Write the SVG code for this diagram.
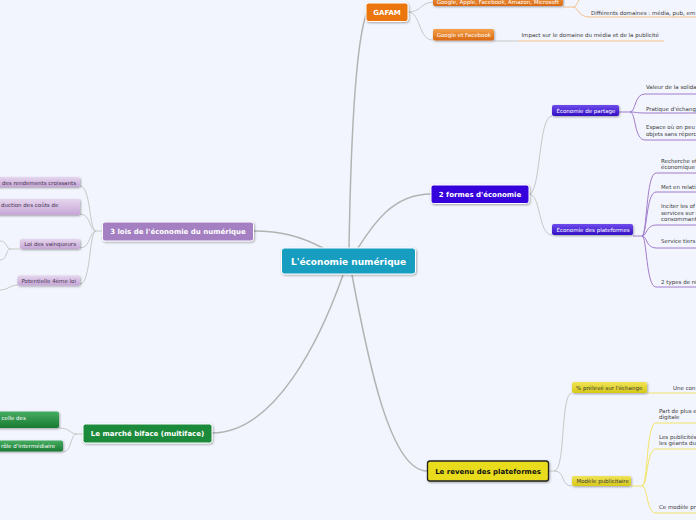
<svg xmlns="http://www.w3.org/2000/svg" width="696" height="520" viewBox="0 0 696 520">
<defs>
<filter id="sh" x="-10%" y="-30%" width="130%" height="180%"><feDropShadow dx="0.8" dy="1" stdDeviation="0.8" flood-color="#000" flood-opacity="0.35"/></filter>
<linearGradient id="gOr" x1="0" y1="0" x2="0" y2="1"><stop offset="0" stop-color="#f4a04a"/><stop offset="1" stop-color="#d96810"/></linearGradient>
<linearGradient id="gBl" x1="0" y1="0" x2="0" y2="1"><stop offset="0" stop-color="#6f4cec"/><stop offset="1" stop-color="#3210c4"/></linearGradient>
<linearGradient id="gPu" x1="0" y1="0" x2="0" y2="1"><stop offset="0" stop-color="#e6d6ee"/><stop offset="1" stop-color="#c6a6d6"/></linearGradient>
<linearGradient id="gGr" x1="0" y1="0" x2="0" y2="1"><stop offset="0" stop-color="#45ad62"/><stop offset="1" stop-color="#1a7a32"/></linearGradient>
<linearGradient id="gYe" x1="0" y1="0" x2="0" y2="1"><stop offset="0" stop-color="#f0e458"/><stop offset="1" stop-color="#d6c816"/></linearGradient>
</defs>
<style>
text{font-family:"DejaVu Sans","Verdana",sans-serif}
.main{stroke:#fff;stroke-width:1}
.mt{font-size:7px;font-weight:bold;fill:#fff;text-anchor:middle}
.st{font-size:5.5px;fill:#fff}
.dt{font-size:5.5px;fill:#3a3a3a}
.pt{font-size:5.5px;fill:#44344f}
.c0{fill:none;stroke:#b3b3b3;stroke-width:1.5}
.c1{fill:none;stroke:#c8c8c8;stroke-width:1}
.co{fill:none;stroke:#f4c08c;stroke-width:1}
.cp{fill:none;stroke:#a27ccc;stroke-width:1}
.cy{fill:none;stroke:#f2e466;stroke-width:1}
</style>
<rect width="696" height="520" fill="#f2f5fd"/>

<g id="connectors">
<path class="c0" d="M349,248 C351,130 356,40 367,12"/>
<path class="c0" d="M358,248 C372,226 392,194 431,194"/>
<path class="c0" d="M323,248 C300,236 280,231 253,231"/>
<path class="c0" d="M343,275 C320,340 275,433 212,433"/>
<path class="c0" d="M352,275 C368,360 390,471 427,471"/>

<path class="c1" d="M408,12 C421,12 420,3 433,2"/>
<path class="c1" d="M408,12 C421,12 418,40 433,40"/>
<path class="c1" d="M494,41 L518,41"/>
<path class="co" d="M518,41 L664,41"/>
<path class="co" d="M563,7 L573,7"/>
<path class="co" d="M573,7 C579,7 577,17 590,17 L696,17"/>
<path class="co" d="M573,7 C578,7 577,-3 586,-6"/>

<path class="c1" d="M529,194 C541,194 538,116 552,116"/>
<path class="c1" d="M529,194 C541,194 538,235 552,235"/>

<path class="cp" d="M619,112 L630,112"/>
<path class="cp" d="M630,112 C636,112 634,94 645,94 L696,94"/>
<path class="cp" d="M630,112 C636,112 636,113 645,113 L696,113"/>
<path class="cp" d="M630,112 C636,112 634,140 645,140 L696,140"/>

<path class="cp" d="M633,236 L642,236"/>
<path class="cp" d="M642,236 C647,236 646,173 656,173 L696,173"/>
<path class="cp" d="M642,236 C647,236 646,192 656,192 L696,192"/>
<path class="cp" d="M642,236 C647,236 646,225 656,225 L696,225"/>
<path class="cp" d="M642,236 C647,236 646,248 656,248 L696,248"/>
<path class="cp" d="M642,236 C647,236 646,287 656,287 L696,287"/>

<path class="c1" d="M102,231 L96,231"/>
<path class="c1" d="M96,231 C89,231 91,186 80,186"/>
<path class="c1" d="M96,231 C89,231 91,214 80,214"/>
<path class="c1" d="M96,231 C89,231 91,248 80,248"/>
<path class="c1" d="M96,231 C89,231 91,284 80,284"/>
<path class="c1" d="M20,249 L11,249"/>
<path class="c1" d="M11,249 C5,249 8,241 0,241"/>
<path class="c1" d="M11,249 C5,249 8,260 0,260"/>
<path class="c1" d="M18,285 C10,285 8,290 0,290"/>

<path class="c1" d="M83,434 L77,434"/>
<path class="c1" d="M77,434 C70,434 70,428 59,428"/>
<path class="c1" d="M77,434 C70,434 72,452 63,452"/>

<path class="c1" d="M548,471 L554,471"/>
<path class="c1" d="M554,471 C566,471 560,393 572,393"/>
<path class="c1" d="M554,471 C566,471 560,486 572,486"/>
<path class="cy" d="M647,393 L696,393"/>
<path class="cy" d="M631,486 L642,486"/>
<path class="cy" d="M642,486 C648,486 646,423 656,423 L696,423"/>
<path class="cy" d="M642,486 C648,486 646,449 656,449 L696,449"/>
<path class="cy" d="M642,486 C648,486 646,513 656,513 L696,513"/>
</g>

<g id="central">
<rect x="281.5" y="248" width="134" height="26" rx="3" fill="#139dbf" class="main" filter="url(#sh)"/>
<text x="348.5" y="265" class="mt" style="font-size:9px">L'économie numérique</text>
</g>

<g id="gafam">
<rect x="366" y="3" width="42" height="18.5" rx="2.5" fill="#ea760e" class="main" filter="url(#sh)"/>
<text x="387" y="15" class="mt">GAFAM</text>
</g>
<g id="gafam-noms">
<rect x="433" y="-6" width="130" height="12" rx="2" fill="url(#gOr)" filter="url(#sh)"/>
<text x="436.7" y="3.5" class="st">Google, Apple, Facebook, Amazon, Microsoft</text>
</g>
<g id="gafam-domaines">
<text x="591" y="14.5" class="dt">Différents domaines : média, pub, em</text>
</g>
<g id="google-facebook">
<rect x="433" y="29" width="61" height="11.5" rx="2" fill="url(#gOr)" filter="url(#sh)"/>
<text x="436.7" y="36.8" class="st">Google et Facebook</text>
</g>
<g id="impact">
<text x="521.5" y="37.3" class="dt">Impact sur le domaine du média et de la publicité</text>
</g>

<g id="formes">
<rect x="431" y="185" width="98" height="18.5" rx="2.5" fill="#3400dc" class="main" filter="url(#sh)"/>
<text x="480" y="197" class="mt">2 formes d'économie</text>
</g>
<g id="partage">
<rect x="552" y="105" width="67" height="11" rx="2" fill="url(#gBl)" filter="url(#sh)"/>
<text x="556.5" y="112.6" class="st">Économie de partage</text>
</g>
<g id="partage-items">
<text x="646" y="89" class="dt">Valeur de la solida</text>
<text x="646" y="110.5" class="dt">Pratique d'échang</text>
<text x="646" y="129" class="dt">Espace où  on peu</text>
<text x="646" y="135.5" class="dt">objets sans réperc</text>
</g>
<g id="plateformes">
<rect x="552" y="224" width="81" height="11" rx="2" fill="url(#gBl)" filter="url(#sh)"/>
<text x="556.5" y="231.6" class="st">Économie des plateformes</text>
</g>
<g id="plateformes-items">
<text x="661" y="163" class="dt">Recherche ef</text>
<text x="661" y="169.3" class="dt">économique</text>
<text x="661" y="188.8" class="dt">Met en relati</text>
<text x="661" y="208" class="dt">Inciter les of</text>
<text x="661" y="214.6" class="dt">services sur l</text>
<text x="661" y="221" class="dt">consommant</text>
<text x="661" y="243" class="dt">Service tiers</text>
<text x="661" y="284" class="dt">2 types de ré</text>
</g>

<g id="lois">
<rect x="102.5" y="222" width="151" height="19" rx="2.5" fill="#a47fc2" class="main" filter="url(#sh)"/>
<text x="178" y="234" class="mt">3 lois de l'économie du numérique</text>
</g>
<g id="loi-rendements">
<rect x="-30" y="177" width="110" height="10" rx="2" fill="url(#gPu)" filter="url(#sh)"/>
<text x="76" y="184.8" class="pt" text-anchor="end">des rendements croissants</text>
</g>
<g id="loi-couts">
<rect x="-30" y="199" width="110" height="16" rx="2" fill="url(#gPu)" filter="url(#sh)"/>
<text x="1" y="206.5" class="pt">duction des coûts de</text>
</g>
<g id="loi-vainqueurs">
<rect x="20" y="239" width="60" height="10" rx="2" fill="url(#gPu)" filter="url(#sh)"/>
<text x="76" y="246.2" class="pt" text-anchor="end">Loi des vainqueurs</text>
</g>
<g id="loi-4">
<rect x="17.5" y="275.5" width="62.5" height="10" rx="2" fill="url(#gPu)" filter="url(#sh)"/>
<text x="76" y="282.5" class="pt" text-anchor="end">Potentielle 4ème loi</text>
</g>

<g id="biface">
<rect x="83" y="424" width="129" height="19" rx="2.5" fill="#1b8a3a" class="main" filter="url(#sh)"/>
<text x="147.5" y="436" class="mt">Le marché biface (multiface)</text>
</g>
<g id="biface-1">
<rect x="-30" y="411.5" width="89" height="16.5" rx="2" fill="url(#gGr)" filter="url(#sh)"/>
<text x="1.5" y="419.5" class="st">celle des</text>
</g>
<g id="biface-2">
<rect x="-30" y="440.5" width="93" height="11" rx="2" fill="url(#gGr)" filter="url(#sh)"/>
<text x="1" y="448.3" class="st">rôle d'intermédiaire</text>
</g>

<g id="revenu">
<rect x="427.5" y="461" width="121" height="20" rx="2.5" fill="#e8dc1c" stroke="#222" stroke-width="1.3" filter="url(#sh)"/>
<text x="488" y="473.8" class="mt" style="fill:#111">Le revenu des plateformes</text>
</g>
<g id="preleve">
<rect x="572" y="382" width="75" height="11" rx="2" fill="url(#gYe)" filter="url(#sh)"/>
<text x="576" y="390.2" class="dt">% prélevé sur l'échange</text>
</g>
<g id="preleve-item">
<text x="673" y="390" class="dt">Une con</text>
</g>
<g id="pub">
<rect x="572" y="476" width="59" height="10" rx="2" fill="url(#gYe)" filter="url(#sh)"/>
<text x="576.5" y="483.2" class="dt">Modèle publicitaire</text>
</g>
<g id="pub-items">
<text x="659" y="412.8" class="dt">Part de plus e</text>
<text x="659" y="419.2" class="dt">digitale</text>
<text x="659" y="438.5" class="dt">Les publicités</text>
<text x="659" y="444.8" class="dt">les géants du</text>
<text x="659" y="508.5" class="dt">Ce modèle pr</text>
</g>
</svg>
